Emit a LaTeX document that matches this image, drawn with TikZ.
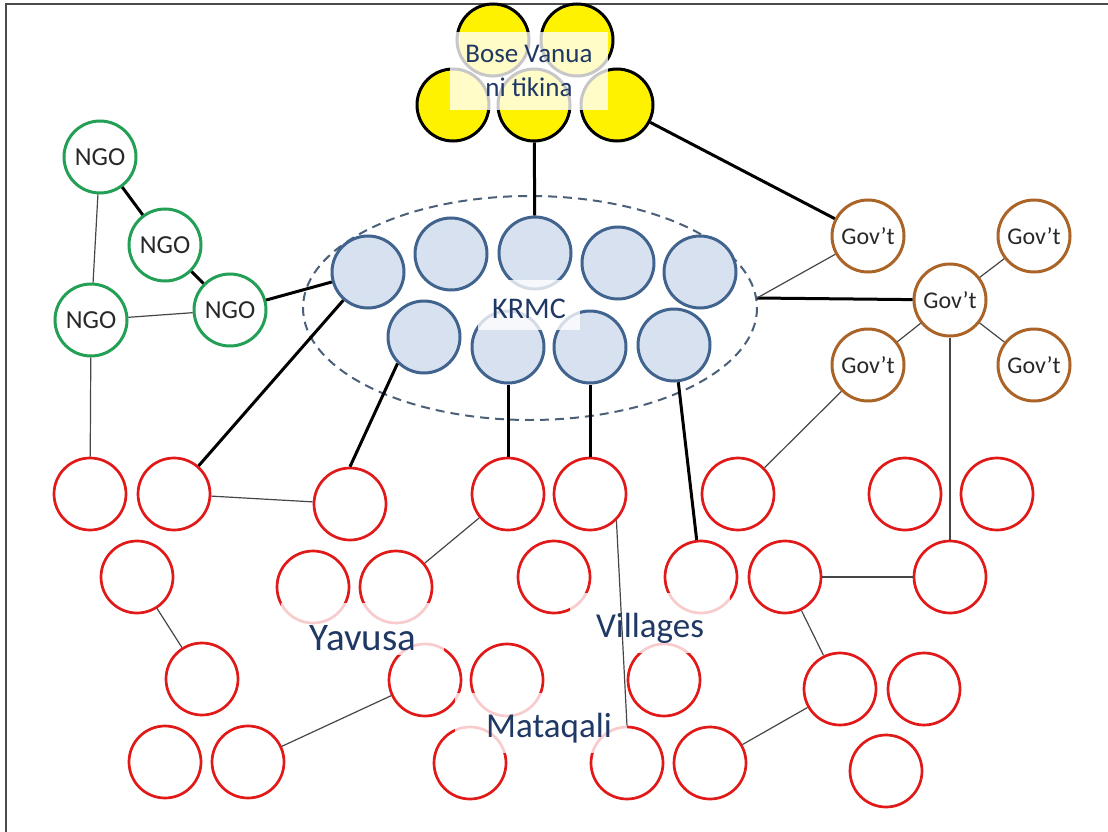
\documentclass[tikz,border=0pt]{standalone}
\usepackage{fontspec}
\setmainfont{Carlito}

\definecolor{krmcfill}{RGB}{216,225,240}
\definecolor{krmcedge}{RGB}{65,100,143}
\definecolor{ngogreen}{RGB}{35,160,85}
\definecolor{govbrown}{RGB}{170,100,40}
\definecolor{grpred}{RGB}{225,25,25}
\definecolor{navy}{RGB}{31,56,100}
\definecolor{darktxt}{RGB}{40,40,40}
\definecolor{linegray}{RGB}{70,70,70}
\definecolor{dashblue}{RGB}{75,95,120}

\tikzset{
  ring/.style={circle, minimum size=72pt, inner sep=0pt, line width=3pt},
  bose/.style={ring, draw=black, fill=yellow},
  krmc/.style={ring, draw=krmcedge, fill=krmcfill},
  ngo/.style={ring, draw=ngogreen, fill=white, text=darktxt, font=\fontsize{26}{30}\selectfont},
  govt/.style={ring, draw=govbrown, fill=white, text=darktxt, font=\fontsize{24}{28}\selectfont},
  grp/.style={ring, draw=grpred, line width=2.7pt},
  thickline/.style={line width=3pt, black},
  thinline/.style={line width=1.2pt, linegray},
  veil/.style={white, fill opacity=0.78},
  lbl/.style={text=navy, anchor=base, inner sep=0pt},
}

\begin{document}
\begin{tikzpicture}[x=1pt, y=-1pt]
    \useasboundingbox (0,0) rectangle (1108,832);

    % frame
    \draw[gray!60!black, line width=1.6pt] (6,832) -- (6,4) -- (1108,4);

    % bose vanua
    \node[bose] (bv1) at (493,40) {};
    \node[bose] (bv2) at (577,40) {};
    \node[bose] (bv3) at (453,105) {};
    \node[bose] (bv4) at (534,105) {};
    \node[bose] (bv5) at (617,105) {};

    % KRMC
    \draw[dashblue, line width=2pt, dash pattern=on 9pt off 6pt] (530,308) ellipse (227 and 112);
    \coordinate (ek) at (757,298);
    \node[krmc] (k1) at (368,272) {};
    \node[krmc] (k2) at (451,254) {};
    \node[krmc] (k3) at (535,253) {};
    \node[krmc] (k4) at (618,263) {};
    \node[krmc] (k5) at (700,272) {};
    \node[krmc] (k6) at (424,337) {};
    \node[krmc] (k7) at (508,347) {};
    \node[krmc] (k8) at (590,347) {};
    \node[krmc] (k9) at (674,345) {};

    % NGOs
    \node[ngo] (n1) at (100,157) {NGO};
    \node[ngo] (n2) at (165,245) {NGO};
    \node[ngo] (n3) at (230,310) {NGO};
    \node[ngo] (n4) at (91,320) {NGO};

    % government
    \node[govt] (g1) at (868,236) {Gov’t};
    \node[govt] (g2) at (1034,236) {Gov’t};
    \node[govt] (g3) at (950,300) {Gov’t};
    \node[govt] (g4) at (868,365) {Gov’t};
    \node[govt] (g5) at (1034,365) {Gov’t};

    % yavusa, mataqali, villages
    \node[grp] (r1) at (90,494) {};
    \node[grp] (r2) at (174,494) {};
    \node[grp] (r3) at (350,504) {};
    \node[grp] (r4) at (508,494) {};
    \node[grp] (r5) at (590,494) {};
    \node[grp] (r20) at (738,494) {};
    \node[grp] (r21) at (905,494) {};
    \node[grp] (r22) at (997,494) {};
    \node[grp] (r6) at (137,577) {};
    \node[grp] (r7) at (313,587) {};
    \node[grp] (r8) at (396,587) {};
    \node[grp] (r13) at (554,577) {};
    \node[grp] (r19) at (701,577) {};
    \node[grp] (r23) at (785,577) {};
    \node[grp] (r24) at (950,577) {};
    \node[grp] (r9) at (202,679) {};
    \node[grp] (r10) at (425,680) {};
    \node[grp] (r14) at (507,680) {};
    \node[grp] (r16) at (664,680) {};
    \node[grp] (r25) at (840,689) {};
    \node[grp] (r26) at (924,689) {};
    \node[grp] (r11) at (165,762) {};
    \node[grp] (r12) at (248,762) {};
    \node[grp] (r15) at (470,763) {};
    \node[grp] (r17) at (627,763) {};
    \node[grp] (r18) at (710,763) {};
    \node[grp] (r27) at (886,771) {};

    % labels
    \fill[veil] (450,32) rectangle (608,110);
    \fill[veil] (478,280) rectangle (580,330);
    \fill[veil] (281,603) rectangle (444,655);
    \fill[veil] (570,593) rectangle (730,653);
    \fill[veil] (455,693) rectangle (627,753);
    \node[text=navy, align=center, font=\fontsize{27}{34}\selectfont] (bvtext) at (529,71) {Bose Vanua\\ni tikina};
    \node[lbl, font=\fontsize{30}{34}\selectfont] (krmctext) at (529,318) {KRMC};
    \node[lbl, font=\fontsize{39}{44}\selectfont] (yavusa) at (363,650) {Yavusa};
    \node[lbl, font=\fontsize{35}{40}\selectfont] (villages) at (650,637) {Villages};
    \node[lbl, font=\fontsize{35}{40}\selectfont] (mataqali) at (549,737) {Mataqali};

    % thick links
    \draw[thickline] (bv4) -- (k3);
    \draw[thickline] (bv5) -- (g1);
    \draw[thickline] (n1) -- (n2);
    \draw[thickline] (n2) -- (n3);
    \draw[thickline] (n3) -- (k1);
    \draw[thickline] (k1) -- (r2);
    \draw[thickline] (k6.south west) -- (r3.north);
    \draw[thickline] (k7) -- (r4);
    \draw[thickline] (k8) -- (r5);
    \draw[thickline] (k9) -- (r19);
    \draw[thickline] (ek) -- (g3);

    % thin links
    \draw[thinline] (ek) -- (g1);
    \draw[thinline] (n1) -- (n4);
    \draw[thinline] (n4) -- (n3);
    \draw[thinline] (n4) -- (r1);
    \draw[thinline] (g3) -- (g2);
    \draw[thinline] (g3) -- (g5);
    \draw[thinline] (g3) -- (g4);
    \draw[thinline] (g3) -- (r24);
    \draw[thinline] (g4) -- (r20);
    \draw[thinline] (r2) -- (r3);
    \draw[thinline] (r6) -- (r9);
    \draw[thinline] (r8) -- (r4);
    \draw[thinline] (r12) -- (r10);
    \draw[thinline] (r5.south east) -- (r17.north);
    \draw[thinline] (r18) -- (r25);
    \draw[thinline] (r23) -- (r24);
    \draw[thinline] (r23) -- (r25);
\end{tikzpicture}
\end{document}
